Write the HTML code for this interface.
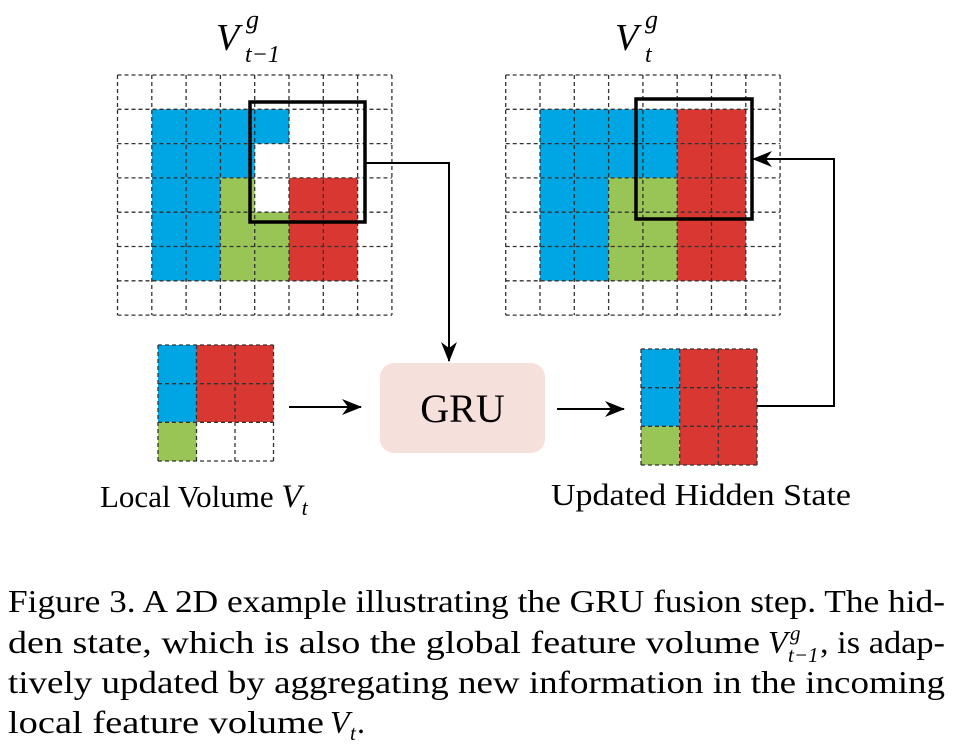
<!DOCTYPE html>
<html><head><meta charset="utf-8"><style>
html,body{margin:0;padding:0;background:#fff;}
svg{display:block;font-family:"Liberation Serif",serif;}
</style></head><body>
<svg width="956" height="754" viewBox="0 0 956 754" xmlns="http://www.w3.org/2000/svg">
<defs>
<marker id="ah" markerWidth="20" markerHeight="16" refX="19" refY="8" orient="auto" markerUnits="userSpaceOnUse" viewBox="0 0 20 16">
<path d="M0,0 L20,8 L0,16 L6,8 Z" fill="#000"/>
</marker>
</defs>
<g transform="translate(117.5,75)">
<g fill="#00a6e3">
<rect x="34.3" y="34.3" width="137.2" height="34.3"/>
<rect x="34.3" y="68.6" width="102.9" height="34.3"/>
<rect x="34.3" y="102.9" width="68.6" height="102.9"/>
</g>
<g fill="#99c556">
<rect x="102.9" y="102.9" width="34.3" height="102.9"/>
<rect x="137.2" y="137.2" width="34.3" height="68.6"/>
</g>
<rect x="171.5" y="102.9" width="68.6" height="102.9" fill="#d93731"/>
<g stroke="#333" stroke-width="1.3" stroke-dasharray="4,3" fill="none">
<path d="M0,0H274.4M0,34.3H274.4M0,68.6H274.4M0,102.9H274.4M0,137.2H274.4M0,171.5H274.4M0,205.8H274.4M0,240.1H274.4"/>
<path d="M0,0V240.1M34.3,0V240.1M68.6,0V240.1M102.9,0V240.1M137.2,0V240.1M171.5,0V240.1M205.8,0V240.1M240.1,0V240.1M274.4,0V240.1"/>
</g>
</g>
<rect x="250" y="102" width="115" height="120" fill="none" stroke="#000" stroke-width="3.5"/>

<g transform="translate(505.7,75)">
<g fill="#00a6e3">
<rect x="34.3" y="34.3" width="137.2" height="68.6"/>
<rect x="34.3" y="102.9" width="68.6" height="102.9"/>
</g>
<rect x="102.9" y="102.9" width="68.6" height="102.9" fill="#99c556"/>
<rect x="171.5" y="34.3" width="68.6" height="171.5" fill="#d93731"/>
<g stroke="#333" stroke-width="1.3" stroke-dasharray="4,3" fill="none">
<path d="M0,0H274.4M0,34.3H274.4M0,68.6H274.4M0,102.9H274.4M0,137.2H274.4M0,171.5H274.4M0,205.8H274.4M0,240.1H274.4"/>
<path d="M0,0V240.1M34.3,0V240.1M68.6,0V240.1M102.9,0V240.1M137.2,0V240.1M171.5,0V240.1M205.8,0V240.1M240.1,0V240.1M274.4,0V240.1"/>
</g>
</g>
<rect x="636" y="99" width="116" height="120" fill="none" stroke="#000" stroke-width="3.5"/>

<g transform="translate(158,345)">
<rect x="0" y="0" width="38.5" height="77" fill="#00a6e3"/>
<rect x="38.5" y="0" width="77" height="77" fill="#d93731"/>
<rect x="0" y="77" width="38.5" height="39" fill="#99c556"/>
<g stroke="#333" stroke-width="1.3" stroke-dasharray="4,3" fill="none">
<path d="M0,0H115.5M0,38.7H115.5M0,77.3H115.5M0,116H115.5M0,0V116M38.5,0V116M77,0V116M115.5,0V116"/>
</g>
</g>
<g transform="translate(641,349)">
<rect x="0" y="0" width="38.7" height="77.3" fill="#00a6e3"/>
<rect x="38.7" y="0" width="77.3" height="116" fill="#d93731"/>
<rect x="0" y="77.3" width="38.7" height="38.7" fill="#99c556"/>
<g stroke="#333" stroke-width="1.3" stroke-dasharray="4,3" fill="none">
<path d="M0,0H116M0,38.7H116M0,77.3H116M0,116H116M0,0V116M38.7,0V116M77.3,0V116M116,0V116"/>
</g>
</g>

<rect x="380" y="363" width="165" height="90" rx="14" fill="#f6e0dc"/>
<text x="462.5" y="422" font-size="40" text-anchor="middle">GRU</text>

<g stroke="#000" stroke-width="2" fill="none">
<path d="M365,163 H449 V361" marker-end="url(#ah)"/>
<path d="M289,407 H361" marker-end="url(#ah)"/>
<path d="M557,409 H624" marker-end="url(#ah)"/>
<path d="M757,406 H834 V159 H753" marker-end="url(#ah)"/>
</g>

<text x="100" y="507" font-size="31">Local Volume <tspan font-style="italic" font-size="33">V</tspan><tspan font-style="italic" font-size="22" dy="8">t</tspan></text>
<text x="551" y="505" font-size="31" textLength="300" lengthAdjust="spacingAndGlyphs">Updated Hidden State</text>

<text x="216" y="50" font-style="italic" font-size="38">V</text>
<text x="246" y="28" font-style="italic" font-size="26">g</text>
<text x="245" y="62" font-style="italic" font-size="24">t−1</text>
<text x="615" y="50" font-style="italic" font-size="38">V</text>
<text x="645" y="28" font-style="italic" font-size="26">g</text>
<text x="645" y="62" font-style="italic" font-size="24">t</text>

<g font-size="32">
<text x="8" y="612" textLength="937" lengthAdjust="spacingAndGlyphs">Figure 3. A 2D example illustrating the GRU fusion step. The hid-</text>
<text x="8" y="653" textLength="752" lengthAdjust="spacingAndGlyphs">den state, which is also the global feature volume</text>
<text x="768" y="653" font-style="italic">V</text>
<text x="790" y="640" font-style="italic" font-size="21">g</text>
<text x="788" y="662" font-style="italic" font-size="21">t−1</text>
<text x="820" y="653" textLength="125" lengthAdjust="spacingAndGlyphs">, is adap-</text>
<text x="8" y="693" textLength="937" lengthAdjust="spacingAndGlyphs">tively updated by aggregating new information in the incoming</text>
<text x="8" y="733" textLength="316" lengthAdjust="spacingAndGlyphs">local feature volume</text>
<text x="330" y="733" font-style="italic">V</text>
<text x="350" y="740" font-style="italic" font-size="21">t</text>
<text x="357" y="733">.</text>
</g>
</svg>
</body></html>
